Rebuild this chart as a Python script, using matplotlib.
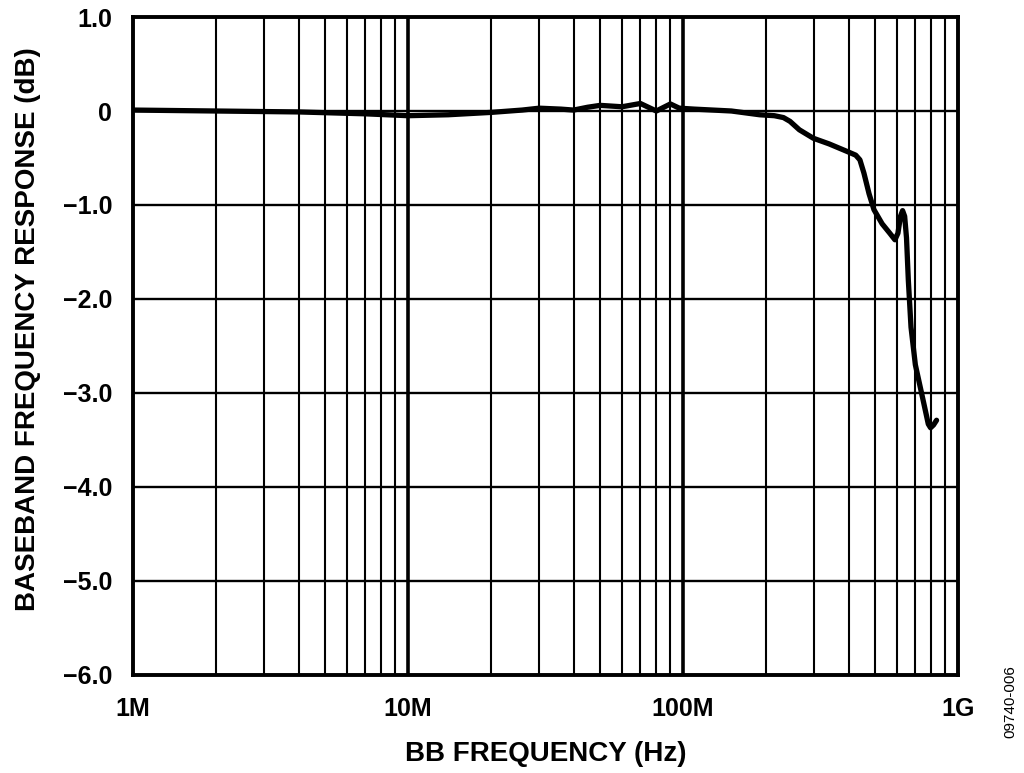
import matplotlib
matplotlib.use("Agg")
import matplotlib.pyplot as plt
import numpy as np
from matplotlib.ticker import FixedLocator, NullFormatter

# frequence (Hz) et reponse (dB)
freq_hz = [1.0e6, 2.0e6, 4.0e6, 7.0e6, 10.0e6, 14.0e6, 20.0e6, 26.0e6, 30.0e6,
           36.0e6, 40.0e6, 45.0e6, 50.0e6, 60.0e6, 70.0e6, 80.0e6, 90.0e6, 97.0e6,
           110.0e6, 150.0e6, 190.0e6, 215.0e6, 232.0e6, 245.0e6, 265.0e6, 298.0e6,
           340.0e6, 395.0e6, 425.0e6, 440.0e6, 455.0e6, 475.0e6, 495.0e6, 530.0e6,
           565.0e6, 590.0e6, 605.0e6, 618.0e6, 629.0e6, 640.0e6, 650.0e6,
           660.0e6, 675.0e6, 700.0e6, 750.0e6, 780.0e6, 795.0e6, 815.0e6, 836.0e6]
resp_db = [0.01, 0.0, -0.01, -0.03, -0.05, -0.04, -0.015, 0.01, 0.03,
           0.02, 0.01, 0.04, 0.06, 0.045, 0.08, 0.0, 0.075, 0.03,
           0.02, 0.0, -0.04, -0.05, -0.07, -0.11, -0.2, -0.29,
           -0.35, -0.43, -0.47, -0.52, -0.66, -0.88, -1.05, -1.2,
           -1.3, -1.37, -1.3, -1.12, -1.06, -1.12, -1.35,
           -1.8, -2.3, -2.7, -3.1, -3.33, -3.37, -3.34, -3.29]

y_ticks = [1.0, 0.0, -1.0, -2.0, -3.0, -4.0, -5.0, -6.0]
y_tick_labels = ["1.0", "0", "\u22121.0", "\u22122.0", "\u22123.0", "\u22124.0", "\u22125.0", "\u22126.0"]
x_ticks = [1e6, 1e7, 1e8, 1e9]
x_tick_labels = ["1M", "10M", "100M", "1G"]

plt.rcParams["font.family"] = ["Liberation Sans", "DejaVu Sans"]

fig = plt.figure(figsize=(10.24, 7.73), dpi=100)
ax = fig.add_axes([0.1299, 0.1268, 0.8056, 0.8512])

ax.set_xscale("log")
ax.set_xlim(1e6, 1e9)
ax.set_ylim(-6.0, 1.0)

# grille : lignes mineures fines, decades plus epaisses
minor = [m * 10 ** e for e in (6, 7, 8) for m in range(2, 10)]
for f in minor:
    ax.axvline(f, color="black", lw=1.5, zorder=1)
for f in (1e7, 1e8):
    ax.axvline(f, color="black", lw=2.6, zorder=1)
for v in y_ticks[1:-1]:
    ax.axhline(v, color="black", lw=1.7, zorder=1)

ax.plot(freq_hz, resp_db, color="black", lw=3.8, zorder=3,
        solid_joinstyle="round", solid_capstyle="round")

ax.xaxis.set_major_locator(FixedLocator(x_ticks))
ax.xaxis.set_minor_locator(FixedLocator(minor))
ax.xaxis.set_minor_formatter(NullFormatter())
ax.set_xticks(x_ticks)
ax.set_xticklabels(x_tick_labels, fontsize=18, fontweight="bold")
ax.set_yticks(y_ticks)
ax.set_yticklabels(y_tick_labels, fontsize=18, fontweight="bold")
ax.tick_params(axis="both", which="both", length=0)
ax.tick_params(axis="x", pad=16)
ax.tick_params(axis="y", pad=15)

for s in ax.spines.values():
    s.set_linewidth(2.8)
    s.set_color("black")

ax.set_xlabel("BB FREQUENCY (Hz)", fontsize=20, fontweight="bold", labelpad=14)
ax.set_ylabel("BASEBAND FREQUENCY RESPONSE (dB)", fontsize=20, fontweight="bold")
ax.yaxis.set_label_coords(-0.112, 0.525)

fig.text(0.987, 0.092, "09740-006", rotation=90, fontsize=11, ha="center", va="center")

fig.savefig("out.png", dpi=100)
